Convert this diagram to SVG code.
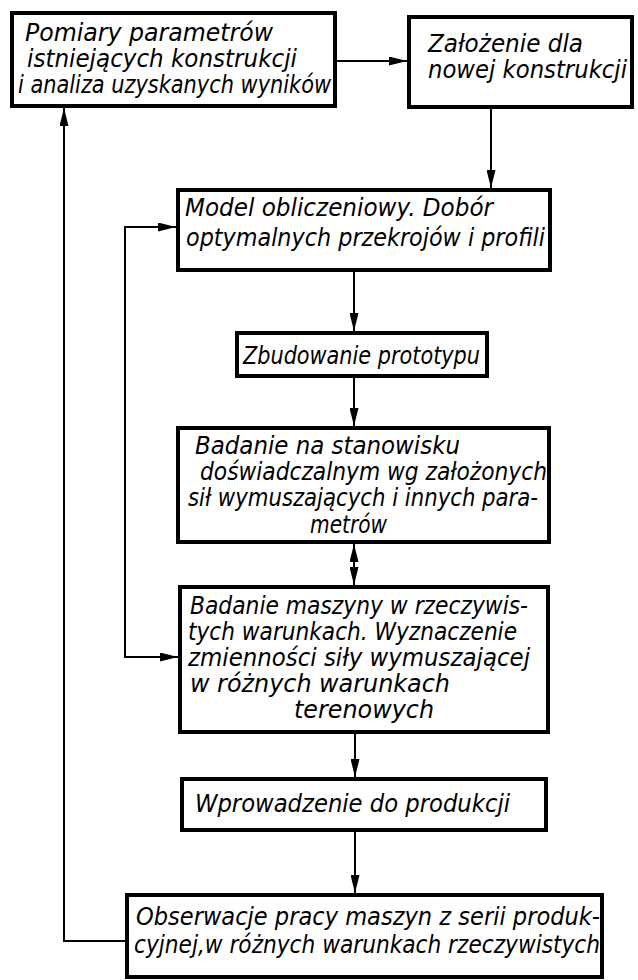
<svg xmlns="http://www.w3.org/2000/svg" width="638" height="980" viewBox="0 0 638 980">
<style>
.box{fill:#fff;stroke:#000;stroke-width:4}
.c{fill:none;stroke:#000;stroke-width:2}
.t{font-family:"Liberation Sans Narrow","DejaVu Sans Condensed",sans-serif;font-style:italic;font-size:24px;fill:#000}
</style>
<defs>
<marker id="ah" markerUnits="userSpaceOnUse" markerWidth="18" markerHeight="9" viewBox="0 0 18 9" refX="18" refY="4.5" orient="auto-start-reverse">
<path d="M0,0 L18,4.5 L0,9 z" fill="#000"/>
</marker>
</defs>
<rect width="638" height="980" fill="#fff"/>
<g id="connectors">
<path class="c" d="M337,61 H407" marker-end="url(#ah)"/>
<path class="c" d="M491,109 V188" marker-end="url(#ah)"/>
<path class="c" d="M354,272 V331" marker-end="url(#ah)"/>
<path class="c" d="M354,378 V426" marker-end="url(#ah)"/>
<path class="c" d="M354,544 V585" marker-start="url(#ah)" marker-end="url(#ah)"/>
<path class="c" d="M355,734 V777" marker-end="url(#ah)"/>
<path class="c" d="M355,832 V893" marker-end="url(#ah)"/>
<path class="c" d="M125,941 H64 V108" marker-end="url(#ah)"/>
<path class="c" d="M176,227 H125 V657 H178" marker-start="url(#ah)" marker-end="url(#ah)"/>
</g>
<g id="n1">
<rect class="box" x="12" y="13" width="323" height="93"/>
<text class="t" x="25" y="41" textLength="248" lengthAdjust="spacingAndGlyphs">Pomiary parametrów</text>
<text class="t" x="27" y="67" textLength="270" lengthAdjust="spacingAndGlyphs">istniejących konstrukcji</text>
<text class="t" x="18" y="93" textLength="313" lengthAdjust="spacingAndGlyphs">i analiza uzyskanych wyników</text>
</g>
<g id="n2">
<rect class="box" x="409" y="17" width="223" height="90"/>
<text class="t" x="428" y="52" textLength="155" lengthAdjust="spacingAndGlyphs">Założenie dla</text>
<text class="t" x="428" y="78" textLength="199" lengthAdjust="spacingAndGlyphs">nowej konstrukcji</text>
</g>
<g id="n3">
<rect class="box" x="178" y="190" width="372" height="80"/>
<text class="t" x="185" y="216" textLength="308" lengthAdjust="spacingAndGlyphs">Model obliczeniowy. Dobór</text>
<text class="t" x="186" y="246" textLength="359" lengthAdjust="spacingAndGlyphs">optymalnych przekrojów i profili</text>
</g>
<g id="n4">
<rect class="box" x="237" y="333" width="250" height="43"/>
<text class="t" x="243" y="364" textLength="237" lengthAdjust="spacingAndGlyphs">Zbudowanie prototypu</text>
</g>
<g id="n5">
<rect class="box" x="178" y="428" width="371" height="114"/>
<text class="t" x="195" y="454" textLength="265" lengthAdjust="spacingAndGlyphs">Badanie na stanowisku</text>
<text class="t" x="200" y="480" textLength="347" lengthAdjust="spacingAndGlyphs">doświadczalnym wg założonych</text>
<text class="t" x="188" y="506" textLength="350" lengthAdjust="spacingAndGlyphs">sił wymuszających i innych para-</text>
<text class="t" x="310" y="533" textLength="77" lengthAdjust="spacingAndGlyphs">metrów</text>
</g>
<g id="n6">
<rect class="box" x="180" y="587" width="368" height="145"/>
<text class="t" x="190" y="614" textLength="338" lengthAdjust="spacingAndGlyphs">Badanie maszyny w rzeczywis-</text>
<text class="t" x="188" y="640" textLength="329" lengthAdjust="spacingAndGlyphs">tych warunkach. Wyznaczenie</text>
<text class="t" x="188" y="666" textLength="342" lengthAdjust="spacingAndGlyphs">zmienności siły wymuszającej</text>
<text class="t" x="190" y="692" textLength="260" lengthAdjust="spacingAndGlyphs">w różnych warunkach</text>
<text class="t" x="294" y="718" textLength="140" lengthAdjust="spacingAndGlyphs">terenowych</text>
</g>
<g id="n7">
<rect class="box" x="182" y="779" width="364" height="51"/>
<text class="t" x="195" y="812" textLength="315" lengthAdjust="spacingAndGlyphs">Wprowadzenie do produkcji</text>
</g>
<g id="n8">
<rect class="box" x="127" y="895" width="475" height="82"/>
<text class="t" x="136" y="925" textLength="464" lengthAdjust="spacingAndGlyphs">Obserwacje pracy maszyn z serii produk-</text>
<text class="t" x="134" y="953" textLength="466" lengthAdjust="spacingAndGlyphs">cyjnej,w różnych warunkach rzeczywistych</text>
</g>
</svg>
